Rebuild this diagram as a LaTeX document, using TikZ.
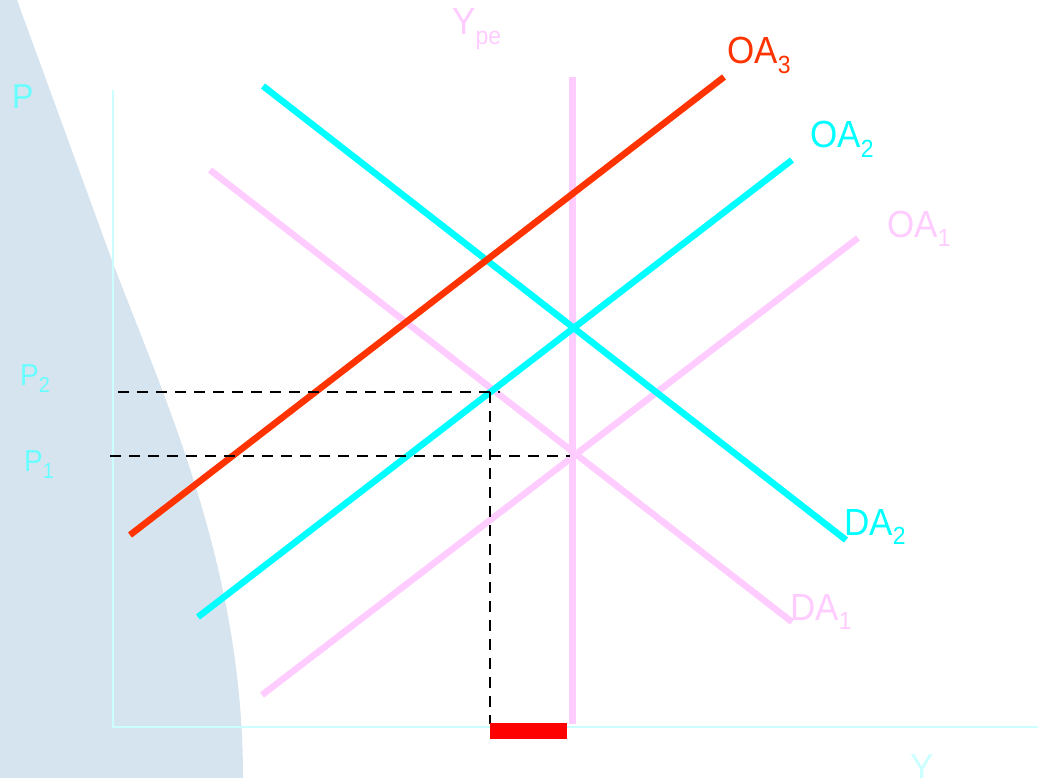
\documentclass[tikz,border=0pt]{standalone}
\usepackage{fontspec}
\setmainfont{Liberation Sans}
\definecolor{bgblue}{HTML}{D6E4F0}
\definecolor{axiscol}{HTML}{CCFFFF}
\definecolor{pinkc}{HTML}{FFCCFF}
\definecolor{cyanc}{HTML}{00FFFF}
\definecolor{redc}{HTML}{FF3300}
\definecolor{plab}{HTML}{66FFFF}
\newcommand\sbx[1]{\raisebox{-9pt}{\fontsize{23}{23}\selectfont #1}}
\newcommand\sbp[1]{\raisebox{-7pt}{\fontsize{20}{20}\selectfont #1}}
\newcommand\tall[1]{\scalebox{1}[1.08]{#1}}
\begin{document}
\begin{tikzpicture}[x=1pt,y=-1pt,
  curve/.style={line width=6.5pt},
  lab/.style={inner sep=0pt,anchor=base west,font=\fontsize{35}{35}\selectfont},
  plabel/.style={inner sep=0pt,anchor=base west,text=plab,font=\fontsize{28}{28}\selectfont},
  guide/.style={black,line width=1.6pt,dash pattern=on 11pt off 8pt}]
\useasboundingbox (0,0) rectangle (1038,778);
\fill[white] (0,0) rectangle (1038,778);
% background shape
\fill[bgblue] (0,0) -- (17,0) -- (110,255) .. controls (160,390) and (243,560) ..
  (243,778) -- (0,778) -- cycle;
% axes
\coordinate (O) at (113,727);
\coordinate (ytop) at (113,90);
\coordinate (xend) at (1038,727);
\draw[axiscol,line width=2.5pt] (ytop) -- (O) -- (xend);
% potential output
\coordinate (ype1) at (572,77);
\coordinate (ype2) at (572,724);
\draw[pinkc,line width=7pt] (ype1) -- (ype2);
% curves
\coordinate (oa1a) at (262,695); \coordinate (oa1b) at (858,238);
\coordinate (da1a) at (210,170); \coordinate (da1b) at (792,622);
\coordinate (oa2a) at (198,617); \coordinate (oa2b) at (792,160);
\coordinate (da2a) at (263,86);  \coordinate (da2b) at (846,540);
\coordinate (oa3a) at (130,535); \coordinate (oa3b) at (724,77);
\draw[curve,pinkc] (oa1a) -- (oa1b);
\draw[curve,pinkc] (da1a) -- (da1b);
\draw[curve,cyanc] (oa2a) -- (oa2b);
\draw[curve,cyanc] (da2a) -- (da2b);
\draw[curve,redc] (oa3a) -- (oa3b);
% guides
\coordinate (g2a) at (118,392); \coordinate (g2b) at (500,392);
\coordinate (g1a) at (110,456); \coordinate (g1b) at (570,456);
\coordinate (gva) at (490,392); \coordinate (gvb) at (490,724);
\draw[guide] (g2a) -- (g2b);
\draw[guide] (g1a) -- (g1b);
\draw[guide] (gva) -- (gvb);
% red bar
\fill[red] (490,723) rectangle (567,739);
% labels
\node[lab,text=redc] (l3) at (727,64) {\tall{OA\sbx{3}}};
\node[lab,text=cyanc] (l2) at (810,148) {\tall{OA\sbx{2}}};
\node[lab,text=pinkc] (l1) at (887,237) {\tall{OA\sbx{1}}};
\node[lab,text=cyanc] (d2) at (844,535) {\tall{DA\sbx{2}}};
\node[lab,text=pinkc] (d1) at (790,620) {\tall{DA\sbx{1}}};
\node[lab,text=pinkc] (ype) at (452,35) {\tall{Y\sbx{pe}}};
\node[plabel,font=\fontsize{32}{32}\selectfont] (pl) at (12,109) {\tall{P}};
\node[plabel] (p2) at (20,385) {\tall{P\sbp{2}}};
\node[plabel] (p1) at (24,471) {\tall{P\sbp{1}}};
\node[lab,text=axiscol] (yl) at (910,780) {\tall{Y}};
\end{tikzpicture}
\end{document}
